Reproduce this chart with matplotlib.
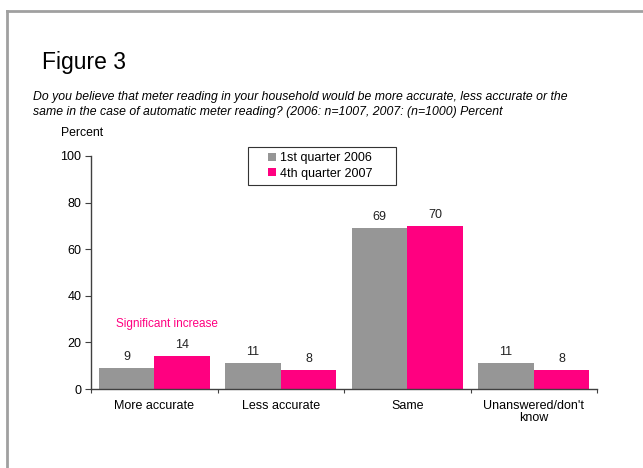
import matplotlib
matplotlib.use("Agg")
import matplotlib.pyplot as plt
from matplotlib.lines import Line2D
from matplotlib.patches import Rectangle
import numpy as np

plt.rcParams['font.family'] = ['Liberation Sans', 'DejaVu Sans']

categories = ["More accurate", "Less accurate", "Same", "Unanswered/don't\nknow"]
series_names = ["1st quarter 2006", "4th quarter 2007"]
values_2006 = [9, 11, 69, 11]
values_2007 = [14, 8, 70, 8]
colors = ["#969696", "#FF0080"]

fig = plt.figure(figsize=(6.43, 4.68), dpi=100)
ax = fig.add_axes([91/643, 1-389/468, (597-91)/643, (389-156)/468])

x = np.arange(len(categories))
w = 0.44
b1 = ax.bar(x - w/2, values_2006, w, color=colors[0], label=series_names[0])
b2 = ax.bar(x + w/2, values_2007, w, color=colors[1], label=series_names[1])

for bars, vals in ((b1, values_2006), (b2, values_2007)):
    for rect, v in zip(bars, vals):
        ax.text(rect.get_x() + rect.get_width()/2, v + 2.3, f"{v}",
                ha='center', va='bottom', fontsize=9, color='#222222')

ax.text(0.1, 25.5, "Significant increase", color=colors[1], ha='center',
        va='bottom', fontsize=8.5)

ax.set_xlim(-0.5, 3.5)
ax.set_ylim(0, 100)
ax.set_yticks([0, 20, 40, 60, 80, 100])
ax.tick_params(axis='y', direction='out', length=4, labelsize=9, color='#404040', pad=3)
ax.set_xticks(np.arange(-0.5, 4, 1))
ax.set_xticklabels([])
ax.tick_params(axis='x', which='major', direction='out', length=3, color='#404040')
ax.set_xticks(x, minor=True)
ax.set_xticklabels(categories, minor=True, fontsize=9, linespacing=1.0)
ax.tick_params(axis='x', which='minor', length=0, pad=8)

for s in ('top', 'right'):
    ax.spines[s].set_visible(False)
for s in ('left', 'bottom'):
    ax.spines[s].set_color('#404040')
    ax.spines[s].set_linewidth(1)

leg = ax.legend(loc='upper left', bbox_to_anchor=(268/643, 1-152/468),
                bbox_transform=fig.transFigure, fontsize=9, frameon=False,
                handlelength=0.6, handleheight=0.6, handletextpad=0.35,
                borderpad=0.0, labelspacing=0.3, borderaxespad=0)
fig.add_artist(Rectangle((248/643, 1-185/468), (396-248)/643, (185-147)/468,
                         transform=fig.transFigure, fill=False,
                         edgecolor='#333333', lw=0.8))

fig.text(42/643, 1-62/468, "Figure 3", fontsize=16.5, ha='left', va='center')
fig.text(33/643, 1-97/468,
         "Do you believe that meter reading in your household would be more accurate, less accurate or the",
         fontsize=8.8, style='italic', ha='left', va='center')
fig.text(33/643, 1-112/468,
         "same in the case of automatic meter reading? (2006: n=1007, 2007: (n=1000) Percent",
         fontsize=8.8, style='italic', ha='left', va='center')
fig.text(61/643, 1-133/468, "Percent", fontsize=8.8, ha='left', va='center')

fig.add_artist(Line2D([6.5/643, 1], [1-10.5/468, 1-10.5/468], transform=fig.transFigure,
                      color='#A0A0A0', lw=2))
fig.add_artist(Line2D([6.5/643, 6.5/643], [1-10.5/468, 0], transform=fig.transFigure,
                      color='#A0A0A0', lw=2))

fig.savefig("out.png", dpi=100)
